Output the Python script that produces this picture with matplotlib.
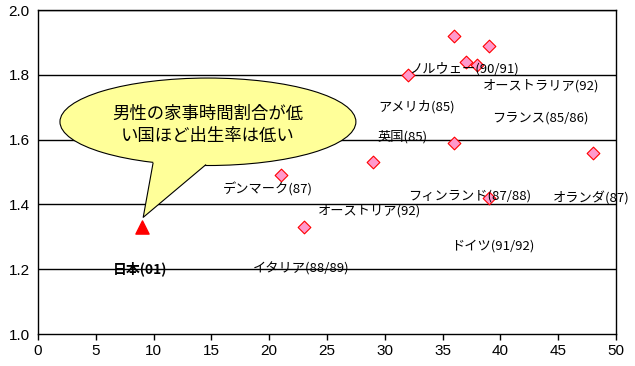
import matplotlib
matplotlib.use("Agg")
import matplotlib.pyplot as plt
from matplotlib.patches import Ellipse, Polygon

plt.rcParams['font.family'] = ['Noto Sans CJK JP', 'DejaVu Sans']

# data: male share of housework time (%) vs total fertility rate
other_x = [21, 23, 29, 32, 36, 39, 37, 38, 36, 48, 39]
other_y = [1.49, 1.33, 1.53, 1.80, 1.92, 1.89, 1.84, 1.83, 1.59, 1.56, 1.42]
japan_x = [9]
japan_y = [1.33]

labels = ['ノルウェー(90/91)', 'オーストラリア(92)', 'アメリカ(85)', 'フランス(85/86)',
          '英国(85)', 'デンマーク(87)', 'フィンランド(87/88)', 'オランダ(87)',
          'オーストリア(92)', 'ドイツ(91/92)', 'イタリア(88/89)']
japan_label = '日本(01)'
callout_text = '男性の家事時間割合が低\nい国ほど出生率は低い'

x_ticks = [0, 5, 10, 15, 20, 25, 30, 35, 40, 45, 50]
y_ticks = [1.0, 1.2, 1.4, 1.6, 1.8, 2.0]

# layout (label anchor positions in data coordinates)
label_pos = [(32.1, 1.82), (38.5, 1.765), (29.4, 1.70), (39.3, 1.667),
             (29.4, 1.61), (16.0, 1.445), (32.0, 1.425), (44.5, 1.417),
             (24.2, 1.38), (35.7, 1.27), (18.6, 1.20)]
japan_pos = (6.5, 1.20)

fig = plt.figure(figsize=(6.35, 3.66), dpi=100)
ax = fig.add_axes([38/635, 32/366, 578/635, 324/366])
ax.set_xlim(0, 50)
ax.set_ylim(1.0, 2.0)

for yv in y_ticks[1:]:
    ax.axhline(yv, color='black', lw=1.0, zorder=1)

ax.scatter(other_x, other_y, marker='D', s=42, facecolor='#FF99CC',
           edgecolor='#FF0000', linewidth=0.8, zorder=6)
ax.scatter(japan_x, japan_y, marker='^', s=90, facecolor='#FF0000',
           edgecolor='#FF0000', zorder=6)

for lab, (lx, ly) in zip(labels, label_pos):
    ax.text(lx, ly, lab, fontsize=9.5, ha='left', va='center', color='black', zorder=7)
ax.text(japan_pos[0], japan_pos[1], japan_label, fontsize=10, fontweight='bold',
        ha='left', va='center', color='black', zorder=7)

# callout balloon
ell = Ellipse((14.7, 1.655), 25.6, 0.27, facecolor='#FFFF99', edgecolor='black',
              linewidth=0.8, zorder=3)
ax.add_patch(ell)
A = (9.95, 1.527)
B = (14.5, 1.522)
T = (9.1, 1.36)
k = 0.25
A2 = (A[0] + (A[0]-T[0])*k, A[1] + (A[1]-T[1])*k)
B2 = (B[0] + (B[0]-T[0])*k, B[1] + (B[1]-T[1])*k)
ax.add_patch(Polygon([A2, B2, T], closed=True, facecolor='#FFFF99',
                     edgecolor='none', zorder=4))
ax.plot([A[0], T[0], B[0]], [A[1], T[1], B[1]], color='black', lw=0.8, zorder=5)
ax.text(14.7, 1.645, callout_text, fontsize=12.5, ha='center', va='center',
        linespacing=1.25, zorder=7)

ax.set_xticks(x_ticks)
ax.set_yticks(y_ticks)
ax.set_xticklabels([str(v) for v in x_ticks], fontsize=11, family='Liberation Sans')
ax.set_yticklabels(['%.1f' % v for v in y_ticks], fontsize=11, family='Liberation Sans')
ax.tick_params(axis='x', length=4, width=1, direction='out', colors='black', pad=3)
ax.tick_params(axis='y', length=0, pad=6)
for s in ['left', 'right', 'bottom', 'top']:
    ax.spines[s].set_color('black')
    ax.spines[s].set_linewidth(1.0)

fig.savefig('out.png', dpi=100)
